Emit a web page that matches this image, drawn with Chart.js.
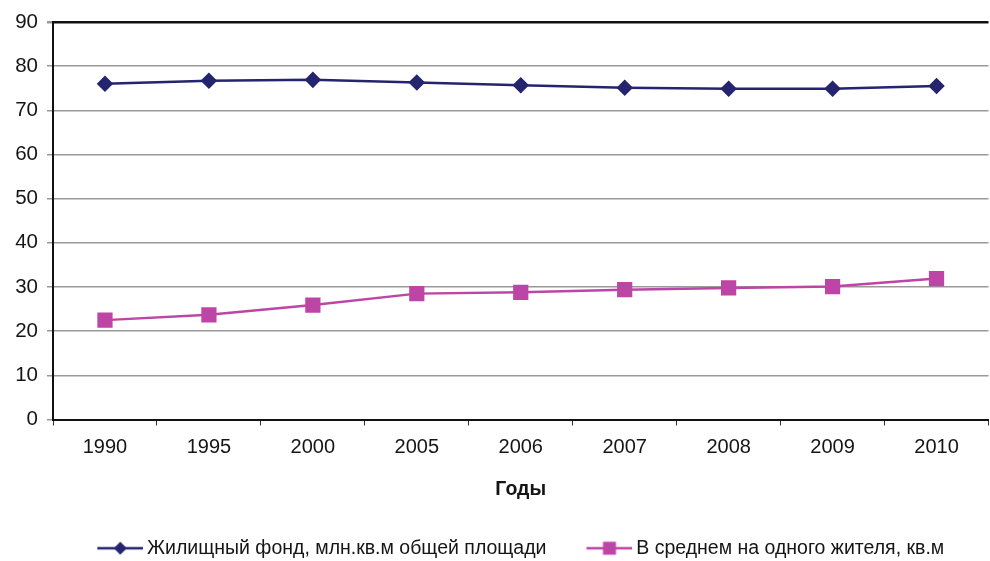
<!DOCTYPE html>
<html lang="ru">
<head>
<meta charset="utf-8">
<title>Жилищный фонд</title>
<script src="https://cdn.jsdelivr.net/npm/chart.js@4.4.1/dist/chart.umd.min.js"></script>
<style>
  html, body { margin: 0; padding: 0; background: #fff; overflow: hidden; }
  #wrap { width: 1000px; height: 568px; }
</style>
</head>
<body>
<div id="wrap"><canvas id="grafico" width="1000" height="568"></canvas></div>
<script>
// данные
const anos = ["1990", "1995", "2000", "2005", "2006", "2007", "2008", "2009", "2010"];
const fond = [76.0, 76.7, 76.9, 76.3, 75.7, 75.1, 74.9, 74.9, 75.5];
const naJitelya = [22.5, 23.7, 25.9, 28.5, 28.8, 29.4, 29.8, 30.1, 31.9];
const yTicks = [0, 10, 20, 30, 40, 50, 60, 70, 80, 90];

const AZUL = "#24246f";
const ROSA = "#bd45a5";
const TEXTO = "#151515";
const FONTE = "'Liberation Sans', Arial, sans-serif";

// ícone da legenda: linha + marcador
function iconeLegenda(cor, tipo) {
  const c = document.createElement("canvas");
  c.width = 52;
  c.height = 16;
  const ctx = c.getContext("2d");
  ctx.strokeStyle = cor;
  ctx.lineWidth = 2.5;
  ctx.beginPath();
  ctx.moveTo(6, 8);
  ctx.lineTo(52, 8);
  ctx.stroke();
  ctx.fillStyle = cor;
  ctx.beginPath();
  if (tipo === "losango") {
    ctx.moveTo(29, 1.5);
    ctx.lineTo(35.5, 8);
    ctx.lineTo(29, 14.5);
    ctx.lineTo(22.5, 8);
    ctx.closePath();
  } else {
    ctx.rect(22.5, 1.5, 13, 13);
  }
  ctx.fill();
  return c;
}
const icones = [iconeLegenda(AZUL, "losango"), iconeLegenda(ROSA, "quadrado")];

new Chart(document.getElementById("grafico"), {
  type: "line",
  data: {
    labels: anos,
    datasets: [
      {
        label: "Жилищный фонд, млн.кв.м общей площади",
        data: fond,
        borderColor: AZUL,
        backgroundColor: AZUL,
        borderWidth: 2.5,
        pointStyle: "rectRot",
        pointRadius: 6.5,
        pointHoverRadius: 6.5,
        tension: 0
      },
      {
        label: "В среднем на одного жителя, кв.м",
        data: naJitelya,
        borderColor: ROSA,
        backgroundColor: ROSA,
        borderWidth: 2.5,
        pointStyle: "rect",
        pointRadius: 9,
        pointHoverRadius: 9,
        tension: 0
      }
    ]
  },
  options: {
    responsive: false,
    animation: false,
    layout: { padding: { top: 22, right: 3, left: 0, bottom: 0 } },
    plugins: {
      tooltip: { enabled: false },
      legend: {
        position: "bottom",
        fullSize: false,
        labels: {
          usePointStyle: true,
          pointStyleWidth: 40,
          padding: 40,
          color: TEXTO,
          font: { family: FONTE, size: 19.5 },
          generateLabels: (chart) => {
            const itens = Chart.defaults.plugins.legend.labels.generateLabels(chart);
            itens.forEach((it, i) => { it.pointStyle = icones[i]; });
            return itens;
          }
        }
      }
    },
    scales: {
      x: {
        offset: true,
        afterFit: (s) => { s.height = 79; },
        border: { color: "#111", width: 2 },
        grid: {
          offset: true,
          drawOnChartArea: false,
          drawTicks: true,
          tickLength: 6,
          color: "#333"
        },
        ticks: { color: TEXTO, padding: 10, font: { family: FONTE, size: 20 } },
        title: {
          display: true,
          text: "Годы",
          color: TEXTO,
          padding: { top: 0, bottom: -1 },
          font: { family: FONTE, size: 19.5, weight: "bold", lineHeight: 1 }
        }
      },
      y: {
        min: 0,
        max: 90,
        afterFit: (s) => { s.width = 53; },
        afterBuildTicks: (s) => { s.ticks = yTicks.map((v) => ({ value: v })); },
        border: { color: "#111", width: 2 },
        grid: {
          color: (ctx) => (ctx.tick && ctx.tick.value === 90 ? "#111" : "#999"),
          lineWidth: (ctx) => (ctx.tick && ctx.tick.value === 90 ? 2.5 : 1.5),
          tickColor: "#999",
          tickLength: 6
        },
        ticks: { color: TEXTO, padding: 9, font: { family: FONTE, size: 20.5 } }
      }
    }
  }
});
</script>
</body>
</html>
